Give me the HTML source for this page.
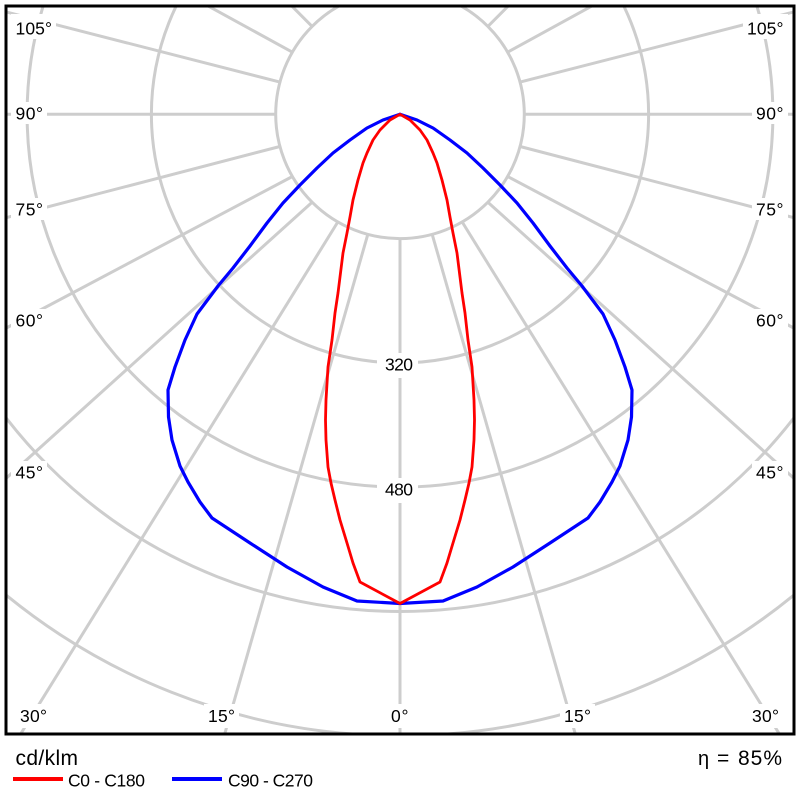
<!DOCTYPE html>
<html>
<head>
<meta charset="utf-8">
<style>
  html, body { margin: 0; padding: 0; background: #ffffff; width: 800px; height: 800px; overflow: hidden; }
  svg { display: block; position: absolute; left: 0; top: 0; }
  text { font-family: "Liberation Sans", "DejaVu Sans", sans-serif; fill: #000; }
</style>
</head>
<body>
<svg width="800" height="800" viewBox="0 0 800 800" xmlns="http://www.w3.org/2000/svg">
  <defs>
    <clipPath id="frameclip">
      <rect x="7.5" y="7.5" width="785" height="725"/>
    </clipPath>
  </defs>
  <rect x="0" y="0" width="800" height="800" fill="#ffffff"/>

  <g clip-path="url(#frameclip)">
    <g fill="none" stroke="#cdcdcd" stroke-width="3">
      <circle cx="400" cy="114.3" r="248.6"/>
      <circle cx="400" cy="114.3" r="372.9"/>
      <circle cx="400" cy="114.3" r="497.2"/>
      <circle cx="400" cy="114.3" r="621.5"/>
    </g>
    <g stroke="#cdcdcd" stroke-width="3" fill="none">
      <line x1="400" y1="238.6" x2="400" y2="735"/>
      <line x1="432.2" y1="234.4" x2="575.6" y2="735"/>
      <line x1="462.2" y1="222.0" x2="780" y2="735"/>
      <line x1="487.9" y1="202.2" x2="795" y2="479.3"/>
      <line x1="507.6" y1="176.5" x2="795" y2="328.7"/>
      <line x1="520.1" y1="146.5" x2="795" y2="218"/>
      <line x1="524.3" y1="114.3" x2="795" y2="114.3"/>
      <line x1="520.1" y1="82.1" x2="795" y2="11.6"/>
      <line x1="507.6" y1="52.2" x2="602.8" y2="0"/>
      <line x1="487.9" y1="26.4" x2="514.2" y2="0"/>
      <line x1="367.8" y1="234.4" x2="224.4" y2="735"/>
      <line x1="337.8" y1="222.0" x2="20" y2="735"/>
      <line x1="312.1" y1="202.2" x2="5" y2="479.3"/>
      <line x1="292.4" y1="176.5" x2="5" y2="328.7"/>
      <line x1="279.9" y1="146.5" x2="5" y2="218"/>
      <line x1="275.7" y1="114.3" x2="5" y2="114.3"/>
      <line x1="279.9" y1="82.1" x2="5" y2="11.6"/>
      <line x1="292.4" y1="52.2" x2="197.2" y2="0"/>
      <line x1="312.1" y1="26.4" x2="285.8" y2="0"/>
    </g>
    <circle cx="400" cy="114.3" r="124.3" fill="#ffffff" stroke="#cdcdcd" stroke-width="3"/>
  </g>

  <g fill="#ffffff">
    <rect x="11" y="14" width="45" height="25"/>
    <rect x="11" y="102" width="36" height="22"/>
    <rect x="11" y="198" width="36" height="22"/>
    <rect x="11" y="309" width="36" height="22"/>
    <rect x="11" y="461" width="36" height="22"/>
    <rect x="743" y="14" width="45" height="25"/>
    <rect x="752" y="102" width="36" height="22"/>
    <rect x="752" y="198" width="36" height="22"/>
    <rect x="752" y="309" width="36" height="22"/>
    <rect x="752" y="461" width="36" height="22"/>
    <rect x="16" y="704" width="36" height="24"/>
    <rect x="204" y="704" width="35" height="24"/>
    <rect x="386" y="704" width="28" height="24"/>
    <rect x="560" y="704" width="35" height="24"/>
    <rect x="748" y="704" width="36" height="24"/>
    <rect x="377" y="353" width="41" height="25"/>
    <rect x="377" y="478" width="41" height="25"/>
  </g>

  <g font-size="17.5">
    <text x="15.5" y="34.5" textLength="36.5">105°</text>
    <text x="15.5" y="119.5" textLength="27.5">90°</text>
    <text x="15.5" y="215.5" textLength="27.5">75°</text>
    <text x="15.5" y="326.5" textLength="27.5">60°</text>
    <text x="15.5" y="478.3" textLength="27.5">45°</text>
    <text x="747" y="34.5" textLength="36.5">105°</text>
    <text x="756" y="119.5" textLength="27.5">90°</text>
    <text x="756" y="215.5" textLength="27.5">75°</text>
    <text x="756" y="326.5" textLength="27.5">60°</text>
    <text x="756" y="478.3" textLength="27.5">45°</text>
    <text x="20" y="722" textLength="27">30°</text>
    <text x="208" y="722" textLength="27">15°</text>
    <text x="391" y="722" textLength="17.5">0°</text>
    <text x="564" y="722" textLength="27">15°</text>
    <text x="752" y="722" textLength="27">30°</text>
    <text x="385" y="370.7" textLength="28">320</text>
    <text x="385" y="495.3" textLength="28">480</text>
  </g>

  <polyline fill="none" stroke="#0000ff" stroke-width="3.2" stroke-linejoin="round" stroke-linecap="round"
    points="400,114.3 417,120 433,128 450,140 467,153 483,168 500,185 517,203 533,223 550,246 567,268 582,286 603,314 615,340 625,367 632,390 631.5,417 628,440 620,466 612,482 600,502 588,518 550,543 513,567 477,587 443,601 400,603.5 357,601 323,587 287,567 250,543 212,518 200,502 188,482 180,466 172,440 168.5,417 168,390 175,367 185,340 197,314 218,286 233,268 250,246 267,223 283,203 300,185 317,168 333,153 350,140 367,128 383,120 400,114.3"/>
  <polyline fill="none" stroke="#ff0000" stroke-width="2.8" stroke-linejoin="round" stroke-linecap="round"
    points="400,114.3 410,120 420,130 427,140 433,153 437,163 442,180 447,200 450,217 453,233 457,253 460,277 462,293 465,313 468,340 472,367 474,400 474.5,420 474,440 472,467 469,483 465,500 460,520 453,543 447,563 440,582 400,603.5 360,582 353,563 347,543 340,520 335,500 331,483 328,467 326,440 325.5,420 326,400 328,367 332,340 335,313 338,293 340,277 343,253 347,233 350,217 353,200 358,180 363,163 367,153 373,140 380,130 390,120 400,114.3"/>

  <rect x="6" y="6" width="788" height="728" fill="none" stroke="#000000" stroke-width="3"/>

  <text x="15.5" y="765" font-size="21" textLength="62.5">cd/klm</text>
  <line x1="13" y1="779" x2="63" y2="779" stroke="#ff0000" stroke-width="4"/>
  <text x="68" y="786.5" font-size="17.5" textLength="77">C0 - C180</text>
  <line x1="172" y1="779" x2="222" y2="779" stroke="#0000ff" stroke-width="4"/>
  <text x="228" y="786.5" font-size="17.5" textLength="85">C90 - C270</text>

  <text x="698" y="765" font-size="20">η</text>
  <text x="717" y="765" font-size="21">=</text>
  <text x="738" y="765" font-size="21" textLength="44">85%</text>
</svg>
</body>
</html>
